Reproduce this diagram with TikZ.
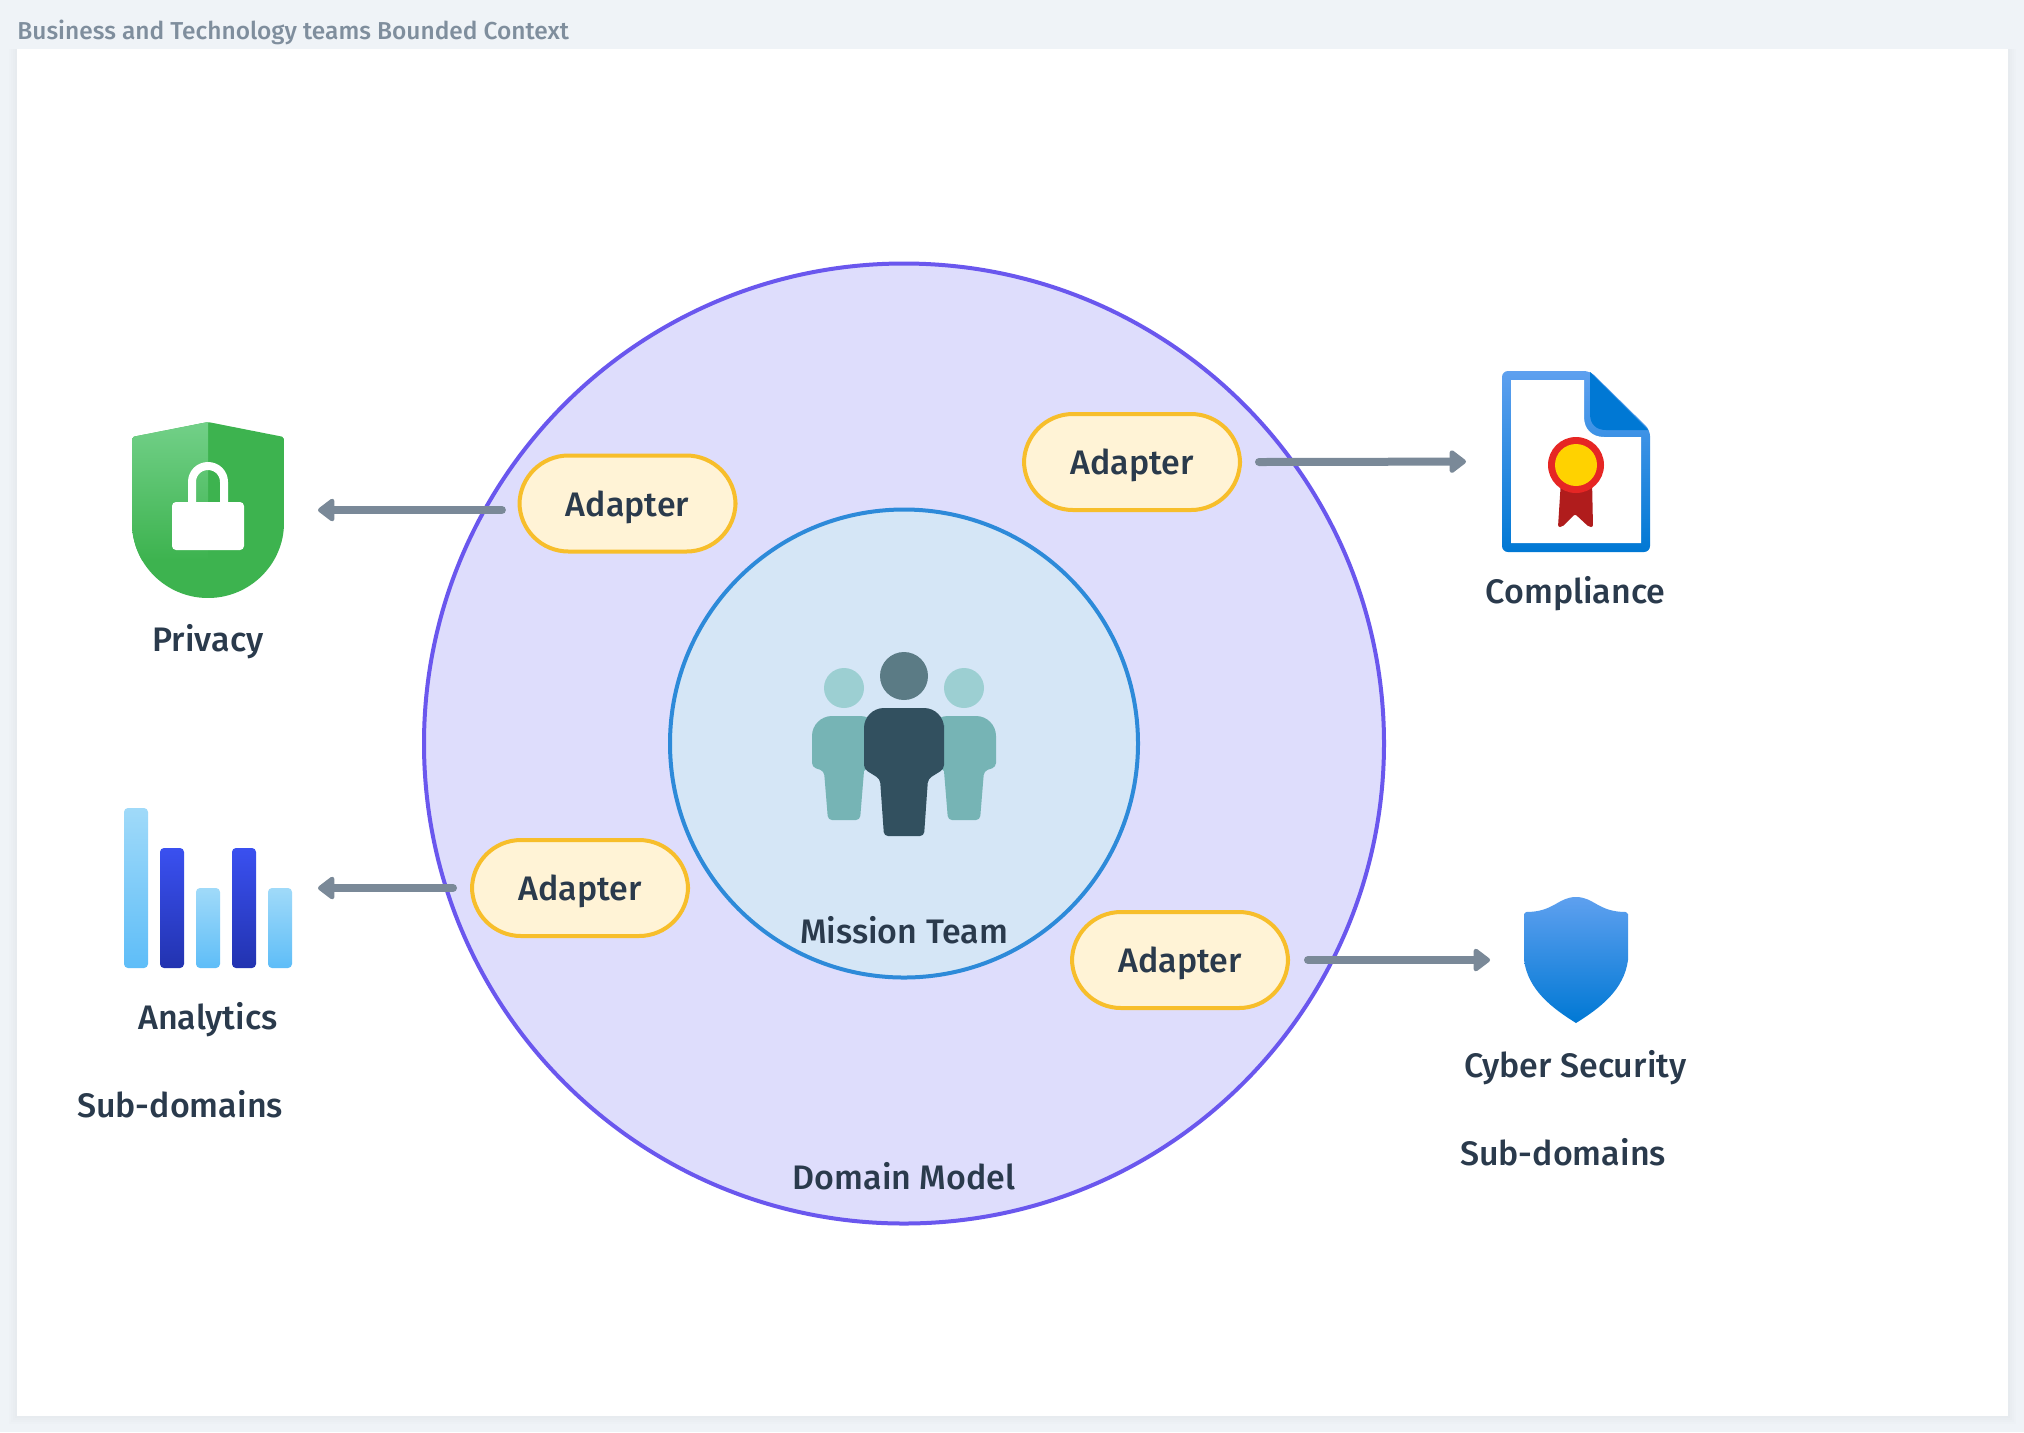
\documentclass[tikz,border=0pt]{standalone}
\usepackage{fontspec}
\setmainfont{Fira Sans Medium}
\usetikzlibrary{arrows.meta}
\definecolor{pagebg}{HTML}{EFF3F7}
\definecolor{txt}{HTML}{2A3A4C}
\definecolor{titletxt}{HTML}{7F8E9D}
\definecolor{conncol}{HTML}{7A8998}
\definecolor{outerfill}{HTML}{DEDDFC}
\definecolor{outerline}{HTML}{6A57EE}
\definecolor{innerfill}{HTML}{D5E6F6}
\definecolor{innerline}{HTML}{2D8AD9}
\definecolor{adfill}{HTML}{FFF3D6}
\definecolor{adline}{HTML}{F7BE2B}
\definecolor{gr}{HTML}{3DB34F}
\definecolor{grl}{HTML}{72D088}
\definecolor{azl}{HTML}{5EA0EF}
\definecolor{azd}{HTML}{0078D4}
\definecolor{barl}{HTML}{A0DAF9}
\definecolor{barlb}{HTML}{5EBDF8}
\definecolor{bard}{HTML}{3A50F0}
\definecolor{bardb}{HTML}{2233B0}
\definecolor{pdark}{HTML}{32505F}
\definecolor{phead}{HTML}{5B7B85}
\definecolor{plight}{HTML}{76B4B5}
\definecolor{pheadl}{HTML}{9CCFD2}
\definecolor{ribbon}{HTML}{B01C1C}
\definecolor{sealred}{HTML}{E62624}
\definecolor{sealyel}{HTML}{FFD200}
\tikzset{
  adapter/.style={draw=adline,fill=adfill,line width=2pt,rounded corners=24.5pt,minimum width=108pt,minimum height=48pt,inner sep=0pt,font=\fontsize{17}{19}\selectfont,text=txt,text height=15.5pt,text depth=3pt},
  lab/.style={font=\fontsize{17}{19}\selectfont,text=txt,inner sep=0pt,text height=15.5pt,text depth=3pt},
  iconbox/.style={inner sep=0pt,outer sep=0pt},
  conn/.style={draw=conncol,line width=4pt,line cap=round,-{Triangle[length=9pt,width=13pt,round]}},
  lightbar/.style={rounded corners=2pt,top color=barl,bottom color=barlb},
  darkbar/.style={rounded corners=2pt,top color=bard,bottom color=bardb},
}
\begin{document}
\begin{tikzpicture}[x=0.5pt,y=-0.5pt]
\useasboundingbox (0,0) rectangle (2024,1432);
\fill[pagebg] (0,0) rectangle (2024,1432);
\foreach \d in {2,4,6,8} {\fill[black,opacity=0.006] (17-\d,49) rectangle (2008+\d,1416+\d);}
\fill[white] (17,49) rectangle (2008,1416);
\node[anchor=base west,inner sep=0pt,text=titletxt,font=\fontsize{12.25}{15}\selectfont] (title) at (17,39) {Business and Technology teams Bounded Context};

% circles
\node[circle,draw=outerline,fill=outerfill,line width=2pt,minimum size=480pt,inner sep=0pt] (outer) at (904,743.5) {};
\node[circle,draw=innerline,fill=innerfill,line width=2pt,minimum size=234pt,inner sep=0pt] (inner) at (904,743.5) {};
\node[lab] (domain) at (904,1177) {Domain Model};
\node[lab] (mission) at (904,931) {Mission Team};

% people
\fill[pheadl] (844,688) circle[radius=10pt];
\fill[pheadl] (964,688) circle[radius=10pt];
\fill[plight] [rounded corners=10pt] (812,745) -- (812,716) -- (880,716) -- (880,745) [rounded corners=0pt] -- (870,765) -- (864,771) [rounded corners=2pt] -- (860,820) -- (828,820) -- (824,771) -- (812,767) -- cycle;
\fill[plight] [rounded corners=10pt] (996,745) -- (996,716) -- (928,716) -- (928,745) [rounded corners=0pt] -- (938,765) -- (944,771) [rounded corners=2pt] -- (948,820) -- (980,820) -- (984,771) -- (996,767) -- cycle;
\fill[phead] (904,676) circle[radius=12pt];
\fill[pdark] [rounded corners=10pt] (864,745) -- (864,708) -- (944,708) -- (944,745) [rounded corners=2pt] -- (944,769) -- (928,779) -- (924,836) -- (884,836) -- (880,779) -- (864,769) -- cycle;

% adapters
\node[adapter] (a1) at (627.5,503.5) {Adapter};
\node[adapter] (a2) at (1132,462) {Adapter};
\node[adapter] (a3) at (580,888) {Adapter};
\node[adapter] (a4) at (1180,960) {Adapter};

% privacy icon
\node[iconbox,minimum width=76pt,minimum height=88pt] (privacy) at (208,510) {};
\begin{scope}
\clip (132,442) [rounded corners=1pt] -- (132,437) -- (208,422) -- (284,437) [rounded corners=0pt] -- (284,523) .. controls (284,564) and (250,598) .. (208,598) .. controls (166,598) and (132,564) .. (132,523) -- cycle;
\fill[gr] (132,422) rectangle (284,598);
\shade[top color=grl,bottom color=gr] (132,422) rectangle (208,560);
\end{scope}
\fill[white,rounded corners=2pt] (172,502) rectangle (244,550);
\draw[white,line width=4pt] (192,505) -- (192,482) .. controls (192,473) and (199,466) .. (208,466) .. controls (217,466) and (224,473) .. (224,482) -- (224,505);
\node[lab] (privacylab) at (208,639) {Privacy};

% analytics icon
\node[iconbox,minimum width=84pt,minimum height=80pt] (analytics) at (208,888) {};
\shade[lightbar] (124,808) rectangle (148,968);
\shade[darkbar] (160,848) rectangle (184,968);
\shade[lightbar] (196,888) rectangle (220,968);
\shade[darkbar] (232,848) rectangle (256,968);
\shade[lightbar] (268,888) rectangle (292,968);
\node[lab] (analyticslab) at (208,1017) {Analytics};
\node[lab] (subl) at (180,1105) {Sub-domains};

% compliance icon
\node[iconbox,minimum width=74pt,minimum height=90.5pt] (compliance) at (1576,461.5) {};
\shade[top color=azl,bottom color=azd,rounded corners=3pt] (1502,371) -- (1590,371) -- (1650,430) -- (1650,552) -- (1502,552) -- cycle;
\fill[white] (1511,380) -- (1584,380) -- (1584,417) .. controls (1584,429) and (1592,437) .. (1604,437) -- (1641,437) -- (1641,543) -- (1511,543) -- cycle;
\fill[azd] (1590,372) -- (1648,430) -- (1606,430) .. controls (1596,430) and (1590,424) .. (1590,414) -- cycle;
\fill[ribbon,rounded corners=1pt] (1561,480) -- (1592,480) -- (1593,527) -- (1589,527) -- (1575,514) -- (1562,527) -- (1558,527) -- cycle;
\fill[sealred] (1576,465) circle[radius=14pt];
\fill[sealyel] (1576,465) circle[radius=10.5pt];
\node[lab] (compliancelab) at (1575.5,591) {Compliance};

% cyber icon
\node[iconbox,minimum width=52pt,minimum height=63pt] (cyber) at (1576,960) {};
\shade[top color=azl,bottom color=azd] (1576,897) .. controls (1558,897) and (1554,912) .. (1526,912) -- (1524,914) -- (1524,960) .. controls (1528,990) and (1552,1008) .. (1576,1023) .. controls (1600,1008) and (1624,990) .. (1628,960) -- (1628,914) -- (1626,912) .. controls (1598,912) and (1594,897) .. (1576,897) -- cycle;
\node[lab] (cyberlab) at (1575.5,1065) {Cyber Security};
\node[lab] (subr) at (1563,1153) {Sub-domains};

% connectors
\draw[conn,shorten >=17pt] ([xshift=-7.8pt,yshift=-3.25pt]a1.west) -- (privacy.east);
\draw[conn,shorten >=13pt] ([xshift=-8.5pt]a3.west) -- (analytics.east);
\draw[conn,shorten >=18pt] ([xshift=8.5pt]a2.east) -- (compliance.west);
\draw[conn,shorten >=17pt] ([xshift=9pt]a4.east) -- (cyber.west);
\end{tikzpicture}
\end{document}
